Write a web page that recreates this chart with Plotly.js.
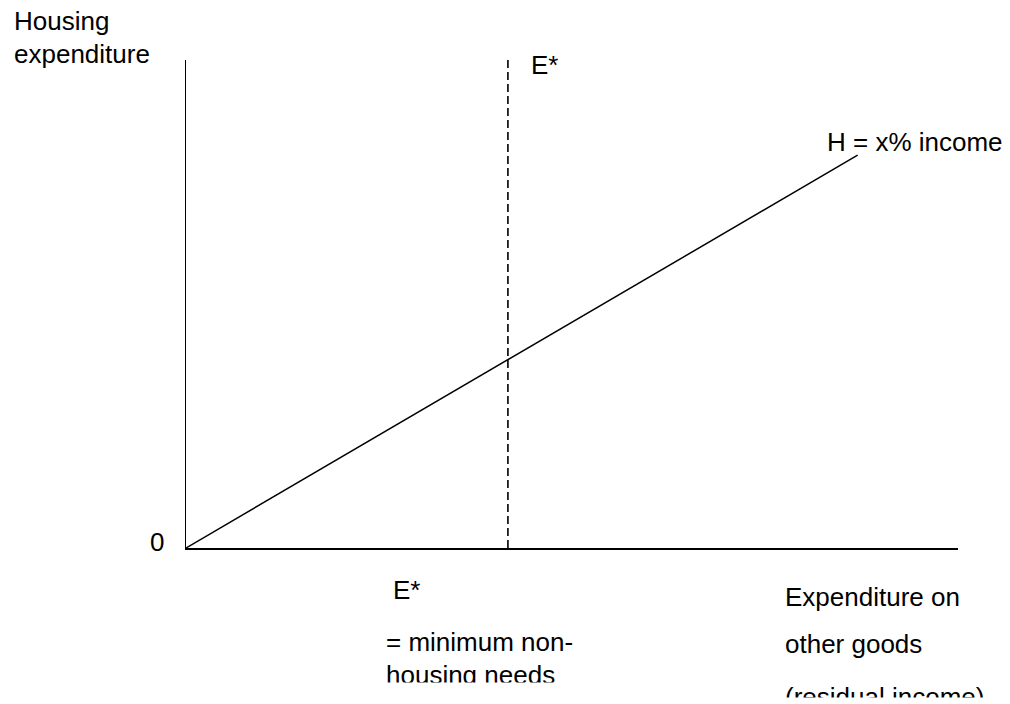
<!DOCTYPE html>
<html>
<head>
<meta charset="utf-8">
<script src="https://cdn.plot.ly/plotly-3.0.1.min.js"></script>
<style>
  html, body { margin: 0; padding: 0; background: #fff; }
  #chart { width: 1010px; height: 704px; }
</style>
</head>
<body>
<div id="chart"></div>
<script>
// Conceptual diagram values (axis units 0..100)
const incomeLineX = [0, 87];          // H = x% income
const incomeLineY = [0, 80.5];
const eStarX = [41.7, 41.7];          // E* (minimum non-housing needs)
const eStarY = [0, 100.4];

const axisXRange = [0, 100];
const axisYRange = [0, 100];

// Layout geometry (pixels)
const W = 1010, H = 704;
const L = 186, R = 958, T = 60, B = 548;
const px = p => (p - L) / (R - L);
const py = p => (B - p) / (B - T);

const FONT = {family: 'Liberation Sans, Arial, sans-serif', size: 26, color: '#000'};

function label(text, left, mid, size) {
  return {
    text: text, xref: 'paper', yref: 'paper',
    x: px(left), y: py(mid), xanchor: 'left', yanchor: 'middle',
    showarrow: false, borderpad: 0,
    font: Object.assign({}, FONT, size ? {size: size} : {})
  };
}
function cover(left, top, w, h) {
  return {
    text: ' ', xref: 'paper', yref: 'paper',
    x: px(left), y: py(top), xanchor: 'left', yanchor: 'top',
    width: w, height: h, bgcolor: '#ffffff', borderpad: 0,
    showarrow: false, font: {size: 10}
  };
}

const traces = [
  {x: incomeLineX, y: incomeLineY, mode: 'lines', type: 'scatter',
   line: {color: '#000', width: 1.5}, hoverinfo: 'skip'},
  {x: eStarX, y: eStarY, mode: 'lines', type: 'scatter',
   line: {color: '#000', width: 1.6, dash: '8px,4px'}, hoverinfo: 'skip', cliponaxis: false}
];

const layout = {
  width: W, height: H,
  margin: {l: L, r: W - R, t: T, b: H - B, pad: 0},
  paper_bgcolor: '#fff', plot_bgcolor: '#fff',
  showlegend: false,
  xaxis: {range: axisXRange, showgrid: false, zeroline: false, showticklabels: false,
          ticks: '', showline: true, linecolor: '#000', linewidth: 1.5, fixedrange: true},
  yaxis: {range: axisYRange, showgrid: false, zeroline: false, showticklabels: false,
          ticks: '', showline: true, linecolor: '#000', linewidth: 1.5, fixedrange: true},
  annotations: [
    label('Housing', 13, 21),
    label('expenditure', 13, 54),
    label('E*', 530, 65),
    label('H = x% income', 826, 142),
    label('0', 149, 541.5),
    label('E*', 392, 590),
    label('= minimum non-', 385, 642),
    label('housing needs', 385, 675),
    label('Expenditure on', 784, 596.5),
    label('other goods', 784, 644),
    label('(residual income)', 784, 697),
    cover(370, 682, 220, 40),
    cover(770, 697, 240, 30)
  ]
};

Plotly.newPlot('chart', traces, layout, {displayModeBar: false, staticPlot: true});
</script>
</body>
</html>
